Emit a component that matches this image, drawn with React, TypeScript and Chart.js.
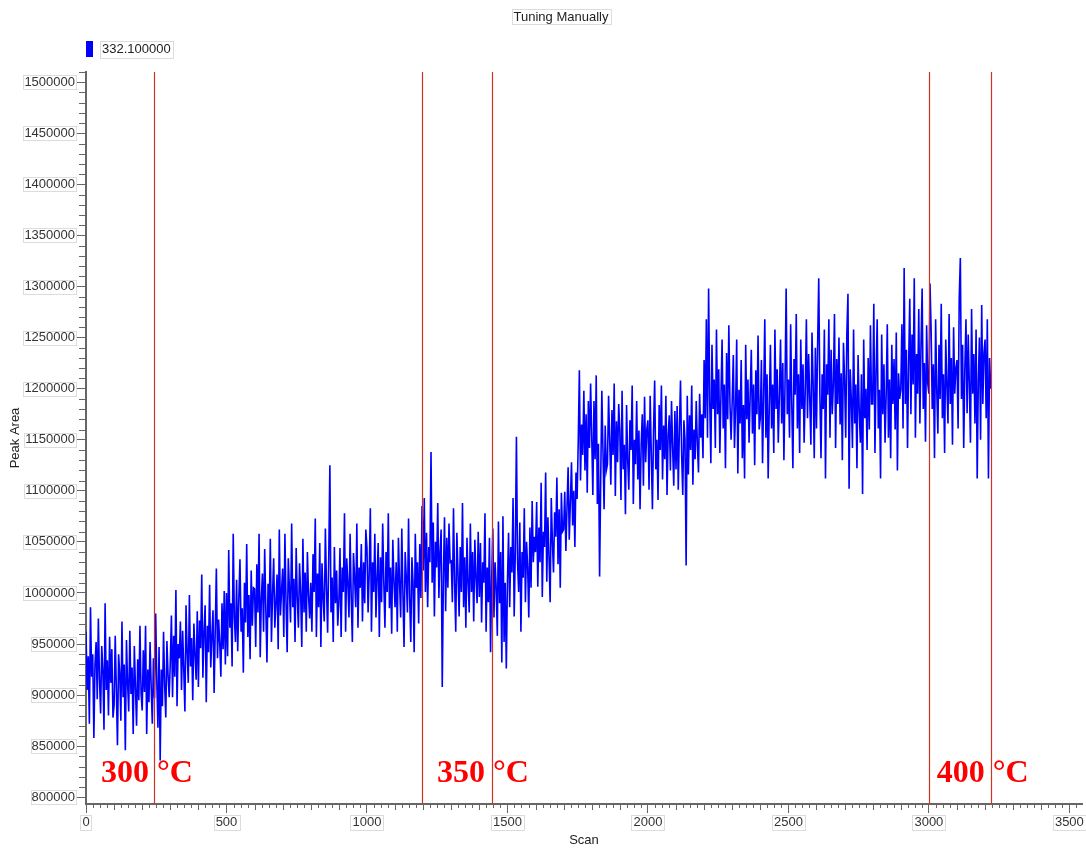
import { useEffect, useRef } from 'react';
import { Chart, registerables } from 'chart.js';

Chart.register(...registerables);

// ---- data -------------------------------------------------------------
const TITLE = 'Tuning Manually';
const SERIES_NAME = '332.100000';
const X_TITLE = 'Scan';
const Y_TITLE = 'Peak Area';

// one reading every SCAN_STEP scans, starting at scan 0
const SCAN_STEP = 4;

// peak area in thousands, 25 readings per 100 scans
const PEAK_AREA_K = [
  962, 905, 938, 872, 986, 918, 940, 858, 930, 952, 896, 975, 915, 882, 948, 925, 866, 990, 905, 934, 880, 957, 912, 945, 878,
  890, 958, 906, 851, 940, 922, 875, 972, 898, 930, 846, 954, 912, 884, 963, 901, 927, 862, 948, 908, 870, 935, 895, 968, 902,
  885, 944, 903, 968, 862, 925, 893, 952, 908, 872, 936, 897, 980, 914, 868, 947, 836, 925, 889, 962, 910, 878, 953, 920, 898,
  932, 978, 898, 958, 918, 1003, 889, 950, 936, 972, 905, 963, 925, 884, 988, 942, 912, 998, 928, 956, 895, 970, 940, 915, 982,
  908, 973, 946, 1018, 917, 962, 988, 893, 968, 942, 1008, 927, 957, 983, 902, 964, 1024, 936, 974, 951, 918, 990, 945, 1002, 930,
  1000, 938, 1042, 966, 990, 928, 1058, 976, 952, 1013, 943, 994, 1033, 962, 985, 922, 1010, 971, 1048, 957, 998, 935, 1022, 968, 1005,
  1004, 947, 1028, 981, 1058, 937, 994, 1019, 962, 1043, 985, 932, 1009, 976, 1053, 952, 999, 1034, 966, 990, 1018, 945, 1062, 978, 1002,
  1024, 957, 1058, 991, 942, 1034, 1004, 971, 1068, 986, 1014, 952, 1044, 995, 966, 1029, 1000, 947, 1053, 981, 1020, 962, 1040, 998, 975,
  1010, 962, 1038, 1001, 1073, 957, 1019, 986, 1049, 947, 1029, 995, 972, 1063, 1005, 961, 1034, 1125, 981, 1015, 952, 1045, 990, 1022, 968,
  991, 1044, 957, 1025, 1001, 1078, 962, 1034, 1010, 976, 1058, 995, 952, 1039, 1015, 986, 1068, 966, 1025, 1005, 1048, 972, 1030, 990, 1062,
  1044, 981, 1020, 1083, 962, 1030, 1001, 1058, 976, 1015, 1049, 957, 1035, 991, 1068, 1010, 966, 1040, 1001, 1078, 985, 1025, 960, 1052, 1012,
  986, 1030, 962, 1054, 1010, 976, 1063, 1000, 947, 1040, 1015, 981, 1073, 995, 952, 1035, 1010, 942, 1058, 1005, 1030, 970, 1048, 995, 1085,
  1022, 1093, 1001, 1059, 986, 1045, 1030, 1138, 1010, 1069, 977, 1050, 1025, 1088, 995, 1040, 1062, 908, 1015, 1074, 982, 1054, 1005, 1068, 1030,
  1031, 991, 1083, 1010, 962, 1059, 1020, 977, 1045, 1001, 1088, 986, 1035, 966, 1054, 1010, 981, 1068, 1001, 1040, 972, 1052, 1015, 990, 1060,
  996, 1049, 971, 1030, 1010, 1078, 962, 1025, 991, 1054, 942, 1015, 1063, 976, 1030, 1005, 958, 1070, 990, 1040, 932, 1075, 952, 1010, 926,
  1011, 1059, 986, 1045, 1020, 1093, 977, 1040, 1153, 1030, 1001, 1069, 962, 1040, 1015, 1083, 991, 1050, 1025, 976, 1064, 1005, 1090, 1030, 1055,
  1040, 1089, 1006, 1064, 1030, 1108, 996, 1060, 1045, 1118, 1011, 1074, 1035, 991, 1093, 1050, 1020, 1079, 1055, 1113, 1028, 1082, 1005, 1098, 1060,
  1062, 1099, 1041, 1084, 1123, 1052, 1089, 1128, 1066, 1100, 1045, 1118, 1092, 1148, 1218, 1110, 1165, 1135, 1198, 1120, 1175, 1098, 1188, 1142, 1205,
  1154, 1096, 1188, 1131, 1213, 1087, 1146, 1016, 1112, 1198, 1140, 1082, 1164, 1120, 1126, 1193, 1150, 1106, 1179, 1135, 1205, 1095, 1168, 1128, 1185,
  1159, 1091, 1198, 1121, 1145, 1077, 1184, 1130, 1101, 1169, 1140, 1203, 1087, 1150, 1126, 1188, 1111, 1159, 1082, 1145, 1175, 1105, 1192, 1128, 1160,
  1169, 1101, 1193, 1136, 1082, 1159, 1208, 1121, 1150, 1091, 1184, 1140, 1203, 1111, 1164, 1131, 1193, 1096, 1155, 1174, 1120, 1188, 1142, 1105, 1178,
  1121, 1183, 1101, 1160, 1208, 1136, 1096, 1169, 1150, 1027, 1193, 1116, 1174, 1140, 1203, 1106, 1160, 1131, 1188, 1145, 1118, 1195, 1152, 1175, 1132,
  1228, 1171, 1268, 1152, 1298, 1189, 1127, 1243, 1180, 1209, 1142, 1258, 1175, 1219, 1137, 1194, 1248, 1161, 1204, 1122, 1235, 1170, 1262, 1185, 1150,
  1189, 1233, 1142, 1180, 1248, 1117, 1199, 1166, 1228, 1132, 1184, 1112, 1243, 1170, 1209, 1147, 1194, 1238, 1156, 1204, 1125, 1218, 1175, 1252, 1160,
  1171, 1228, 1127, 1194, 1268, 1152, 1214, 1112, 1184, 1243, 1161, 1204, 1137, 1258, 1180, 1219, 1147, 1194, 1248, 1166, 1225, 1130, 1205, 1298, 1175,
  1209, 1152, 1263, 1185, 1122, 1229, 1194, 1273, 1161, 1214, 1137, 1248, 1180, 1224, 1147, 1199, 1268, 1171, 1234, 1190, 1145, 1255, 1205, 1132, 1240,
  1161, 1243, 1308, 1195, 1132, 1214, 1180, 1258, 1112, 1224, 1194, 1268, 1152, 1238, 1175, 1204, 1273, 1142, 1229, 1185, 1250, 1165, 1215, 1130, 1245,
  1209, 1152, 1253, 1293, 1102, 1219, 1189, 1142, 1258, 1166, 1204, 1122, 1233, 1180, 1147, 1214, 1097, 1248, 1171, 1200, 1140, 1230, 1160, 1262, 1185,
  1185, 1283, 1137, 1214, 1268, 1161, 1199, 1112, 1253, 1175, 1224, 1147, 1194, 1263, 1152, 1209, 1132, 1243, 1185, 1229, 1160, 1255, 1120, 1215, 1190,
  1199, 1263, 1161, 1318, 1185, 1238, 1142, 1224, 1288, 1175, 1253, 1204, 1308, 1152, 1234, 1195, 1278, 1166, 1243, 1298, 1180, 1225, 1148, 1262, 1205,
  1195, 1303, 1258, 1180, 1224, 1132, 1268, 1199, 1156, 1243, 1190, 1283, 1171, 1214, 1137, 1248, 1204, 1166, 1273, 1185, 1230, 1145, 1260, 1195, 1220,
  1228, 1161, 1288, 1328, 1190, 1243, 1142, 1219, 1268, 1176, 1253, 1204, 1147, 1278, 1195, 1234, 1166, 1258, 1112, 1209, 1250, 1150, 1282, 1185, 1235,
  1248, 1171, 1268, 1112, 1230, 1200,
];

// scans where the temperature steps are marked
const TEMP_MARKERS = [243, 1196, 1445, 3000, 3221];
const TEMP_LABELS = ['300 °C', '350 °C', '400 °C'];
const TEMP_LABEL_SCANS = [53, 1249, 3028];
const TEMP_LABEL_LEVEL = 815000;

// axis ranges and labelled ticks
const X_MIN = 0;
const X_MAX = 3545;
const Y_MIN = 793400;
const Y_MAX = 1510000;
const X_TICKS = [0, 500, 1000, 1500, 2000, 2500, 3000, 3500];
const Y_TICKS = [
  800000, 850000, 900000, 950000, 1000000, 1050000, 1100000, 1150000,
  1200000, 1250000, 1300000, 1350000, 1400000, 1450000, 1500000,
];
const X_MID = 100;
const X_MINOR = 25;
const Y_MINOR = 10000;

// ---- styling ----------------------------------------------------------
const FONT = '"Liberation Sans", Arial, Helvetica, sans-serif';
const AXIS_COLOR = '#666666';
const TEXT_COLOR = '#222222';
const BOX_COLOR = '#dcdcdc';
const LINE_COLOR = '#0000ff';
const MARKER_COLOR = '#cc3322';

const outlineText = (ctx: CanvasRenderingContext2D, x0: number, y0: number, x1: number, y1: number) => {
  ctx.strokeRect(Math.round(x0) + 0.5, Math.round(y0) + 0.5, Math.round(x1 - x0), Math.round(y1 - y0));
};

const decorations = {
  id: 'decorations',
  afterDatasetsDraw(chart: any) {
    const { ctx, chartArea, scales } = chart;
    const xs = scales.x;
    const ys = scales.y;
    ctx.save();
    // temperature step markers
    ctx.strokeStyle = MARKER_COLOR;
    ctx.lineWidth = 1.2;
    TEMP_MARKERS.forEach((s) => {
      const px = Math.round(xs.getPixelForValue(s)) + 0.5;
      ctx.beginPath();
      ctx.moveTo(px, chartArea.top);
      ctx.lineTo(px, chartArea.bottom);
      ctx.stroke();
    });
    // temperature labels
    ctx.fillStyle = '#ff0000';
    ctx.font = 'bold 32px "Liberation Serif", "Times New Roman", serif';
    ctx.textAlign = 'left';
    ctx.textBaseline = 'alphabetic';
    TEMP_LABELS.forEach((t, i) => {
      ctx.fillText(t, xs.getPixelForValue(TEMP_LABEL_SCANS[i]), ys.getPixelForValue(TEMP_LABEL_LEVEL));
    });
    ctx.restore();
  },
  afterDraw(chart: any) {
    const { ctx, chartArea, scales } = chart;
    const xs = scales.x;
    const ys = scales.y;
    ctx.save();
    // minor ticks
    ctx.strokeStyle = AXIS_COLOR;
    ctx.lineWidth = 1;
    for (let v = Math.ceil(Y_MIN / Y_MINOR) * Y_MINOR; v <= Y_MAX; v += Y_MINOR) {
      if (Y_TICKS.includes(v)) continue;
      const py = Math.round(ys.getPixelForValue(v)) + 0.5;
      ctx.beginPath();
      ctx.moveTo(chartArea.left - 7, py);
      ctx.lineTo(chartArea.left, py);
      ctx.stroke();
    }
    for (let v = X_MIN; v <= X_MAX; v += X_MINOR) {
      if (X_TICKS.includes(v)) continue;
      const len = v % X_MID === 0 ? 6 : 4;
      const px = Math.round(xs.getPixelForValue(v)) + 0.5;
      ctx.beginPath();
      ctx.moveTo(px, chartArea.bottom);
      ctx.lineTo(px, chartArea.bottom + len);
      ctx.stroke();
    }

    // thin frames round the tick labels
    ctx.font = `13px ${FONT}`;
    ctx.strokeStyle = BOX_COLOR;
    Y_TICKS.forEach((v) => {
      const w = ctx.measureText(String(v)).width;
      const py = ys.getPixelForValue(v);
      const right = chartArea.left - 10;
      outlineText(ctx, right - w - 2, py - 7, right, py + 7);
    });
    X_TICKS.forEach((v) => {
      const w = ctx.measureText(String(v)).width;
      const px = xs.getPixelForValue(v);
      outlineText(ctx, px - w / 2 - 2, chartArea.bottom + 11, px + w / 2 + 2, chartArea.bottom + 26);
    });

    // title
    ctx.fillStyle = TEXT_COLOR;
    ctx.textBaseline = 'middle';
    ctx.textAlign = 'center';
    const tw = ctx.measureText(TITLE).width;
    const tx = 561;
    ctx.fillText(TITLE, tx, 17);
    ctx.strokeStyle = BOX_COLOR;
    outlineText(ctx, tx - tw / 2 - 2, 9, tx + tw / 2 + 2, 24);

    // legend
    const lx = chartArea.left;
    ctx.fillStyle = LINE_COLOR;
    ctx.fillRect(lx, 41, 7, 16);
    ctx.fillStyle = TEXT_COLOR;
    ctx.textAlign = 'left';
    const lw = ctx.measureText(SERIES_NAME).width;
    ctx.fillText(SERIES_NAME, lx + 16, 49.5);
    outlineText(ctx, lx + 14, 41, lx + 18 + lw, 58);
    ctx.restore();
  },
};

export default function App() {
  const canvasRef = useRef<HTMLCanvasElement | null>(null);

  useEffect(() => {
    const canvas = canvasRef.current;
    if (!canvas) return;
    const points = PEAK_AREA_K.map((v, i) => ({ x: i * SCAN_STEP, y: v * 1000 }));

    const chart = new Chart(canvas, {
      type: 'line',
      data: {
        datasets: [
          {
            label: SERIES_NAME,
            data: points,
            borderColor: LINE_COLOR,
            borderWidth: 1.6,
            pointRadius: 0,
            tension: 0,
            fill: false,
          },
        ],
      },
      options: {
        responsive: false,
        animation: false,
        parsing: false,
        normalized: true,
        layout: { padding: { left: 8, right: 4, top: 72, bottom: 0 } },
        plugins: {
          legend: { display: false },
          title: { display: false },
          tooltip: { enabled: false },
        },
        scales: {
          x: {
            type: 'linear',
            min: X_MIN,
            max: X_MAX,
            afterFit: (s: any) => {
              s.height = 44;
            },
            afterBuildTicks: (s: any) => {
              s.ticks = X_TICKS.map((value) => ({ value }));
            },
            ticks: {
              color: '#333333',
              font: { family: FONT, size: 13 },
              padding: 2,
              maxRotation: 0,
              autoSkip: false,
              callback: (v: any) => String(v),
            },
            grid: {
              display: true,
              drawOnChartArea: false,
              drawTicks: true,
              tickLength: 9,
              color: AXIS_COLOR,
              lineWidth: 1,
            },
            border: { display: true, color: AXIS_COLOR, width: 2 },
            title: {
              display: true,
              text: X_TITLE,
              color: TEXT_COLOR,
              font: { family: FONT, size: 13 },
              padding: { top: 0, bottom: 0 },
            },
          },
          y: {
            type: 'linear',
            min: Y_MIN,
            max: Y_MAX,
            afterFit: (s: any) => {
              s.width = 78;
            },
            afterBuildTicks: (s: any) => {
              s.ticks = Y_TICKS.map((value) => ({ value }));
            },
            ticks: {
              color: '#333333',
              font: { family: FONT, size: 13 },
              padding: 1,
              autoSkip: false,
              callback: (v: any) => String(v),
            },
            grid: {
              display: true,
              drawOnChartArea: false,
              drawTicks: true,
              tickLength: 10,
              color: AXIS_COLOR,
              lineWidth: 1,
            },
            border: { display: true, color: AXIS_COLOR, width: 2 },
            title: {
              display: true,
              text: Y_TITLE,
              color: TEXT_COLOR,
              font: { family: FONT, size: 13 },
              padding: { top: 0, bottom: 0 },
            },
          },
        },
      },
      plugins: [decorations],
    });

    return () => chart.destroy();
  }, []);

  return (
    <div style={{ position: 'absolute', left: 0, top: 0, width: 1086, height: 848, background: '#ffffff' }}>
      <canvas ref={canvasRef} width={1086} height={848} style={{ display: 'block' }} />
    </div>
  );
}
